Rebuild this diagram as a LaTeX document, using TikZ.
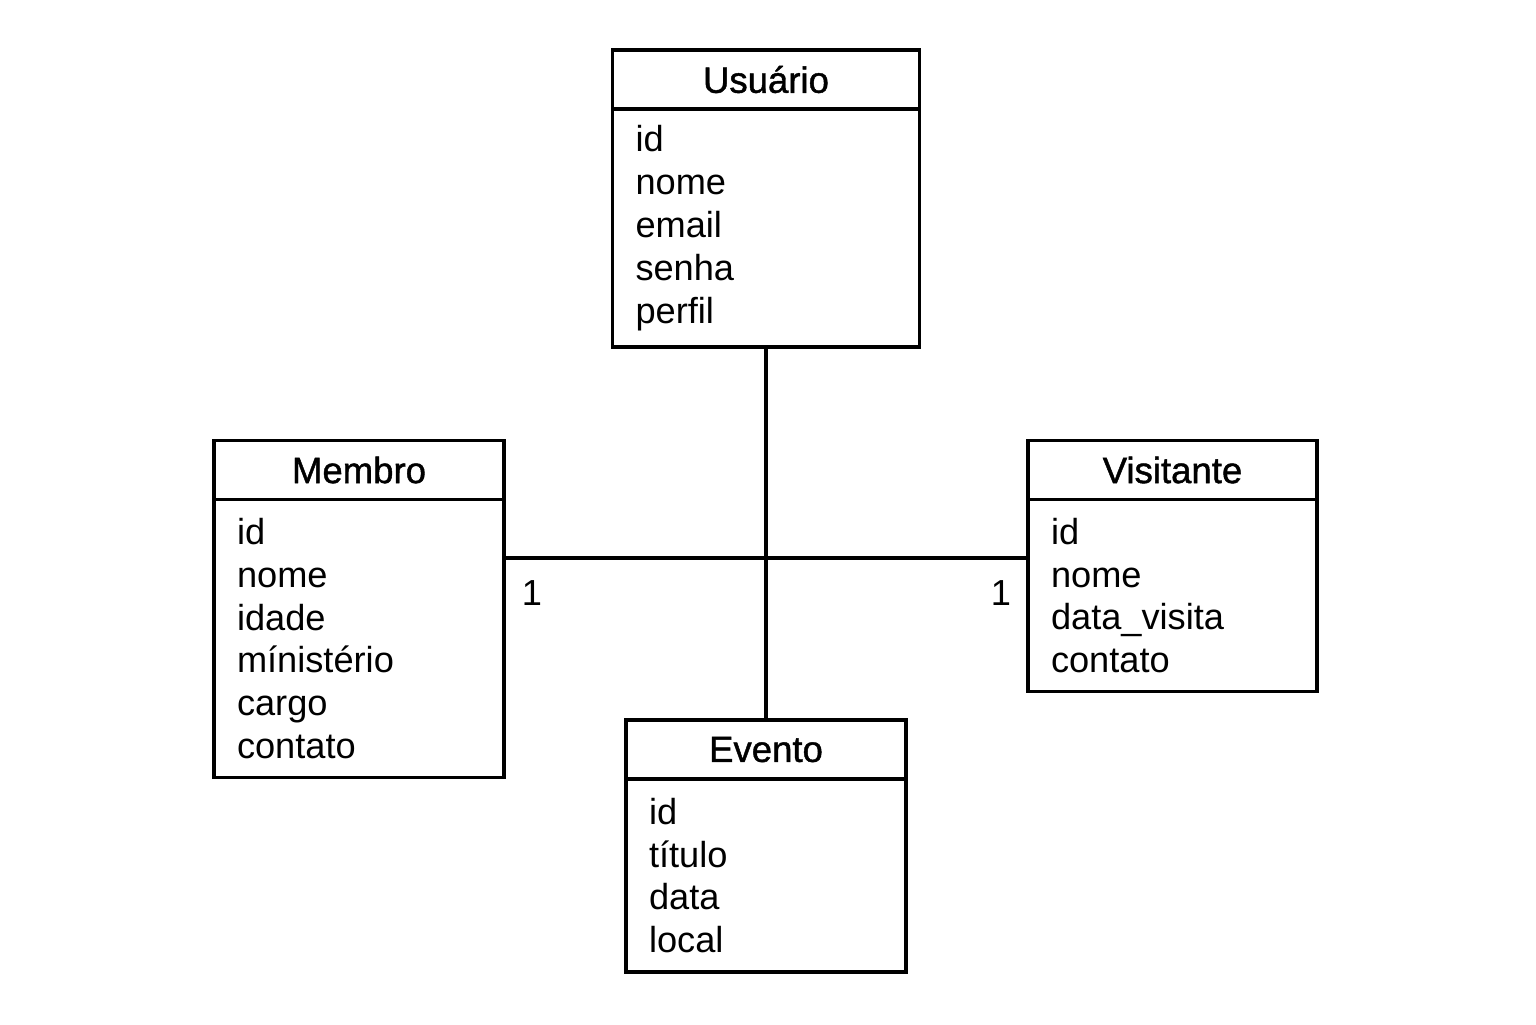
\documentclass[tikz,border=0pt]{standalone}
\usepackage{fontspec}
\setmainfont{Liberation Sans}
\newfontfamily\headfont[FakeBold=1.2]{Liberation Sans}
\usetikzlibrary{positioning}
\begin{document}
\begin{tikzpicture}[line width=0.9pt,
    head/.style = {draw, outer sep=0pt, minimum height=0.59cm, font=\headfont\fontsize{10.4}{12}\selectfont},
    attr/.style = {draw, outer sep=0pt, align=left, inner xsep=0.23cm, inner ysep=0pt, font=\fontsize{10.3}{12.2}\selectfont},
    mult/.style = {font=\fontsize{10.3}{12}\selectfont}]
      \useasboundingbox (0,0) rectangle (15.36,-10.24);

      \node[head, minimum width=3.07cm] at (7.66,-0.795) (usuario) {Usuário};
      \node[attr, text width=2.61cm, minimum height=2.38cm, below=0pt of usuario] (usuarioattr) {id\\nome\\email\\senha\\perfil};

      \node[head, minimum width=2.90cm] at (3.59,-4.70) (membro) {Membro};
      \node[attr, text width=2.44cm, minimum height=2.78cm, below=0pt of membro] (membroattr) {id\\nome\\idade\\mínistério\\cargo\\contato};

      \node[head, minimum width=2.89cm] at (11.725,-4.70) (visitante) {Visitante};
      \node[attr, text width=2.43cm, minimum height=1.92cm, below=0pt of visitante] (visitanteattr) {id\\nome\\data\_visita\\contato};

      \node[head, minimum width=2.80cm] at (7.66,-7.495) (evento) {Evento};
      \node[attr, text width=2.34cm, minimum height=1.93cm, below=0pt of evento] (eventoattr) {id\\título\\data\\local};

      \coordinate (cross) at (7.66,-5.58);

      \node[mult] at (5.32,-5.93) (membroone) {1};
      \node[mult] at (10.01,-5.93) (visitanteone) {1};

      \path
      (usuarioattr.south) edge (evento.north)
      (cross -| membroattr.east) edge (cross -| visitanteattr.west)
      ;

    \end{tikzpicture}
\end{document}
